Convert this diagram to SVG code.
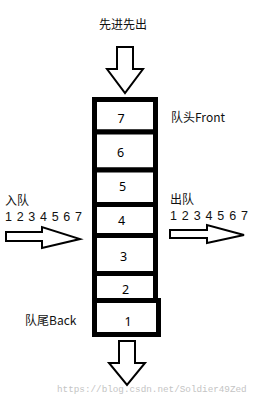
<svg xmlns="http://www.w3.org/2000/svg" width="255" height="400" viewBox="0 0 255 400">
<style>
.box{fill:#fff;stroke:#000;stroke-width:5}
.num{font-family:"Noto Sans","Noto Sans CJK SC",sans-serif;font-size:12.5px;fill:#000;text-anchor:middle}
.lbl{font-family:"Noto Sans CJK SC","Noto Sans",sans-serif;font-size:12px;fill:#111}
.seq{font-family:"Liberation Sans",Arial,sans-serif;font-size:12.5px;fill:#111}
.arr{fill:#fff;stroke:#000;stroke-width:2;stroke-linejoin:miter}
.wm{font-family:"Liberation Mono",monospace;font-size:9.3px;fill:#c4c4c4}
</style>
<rect width="255" height="400" fill="#fff"/>
<g id="title"><text class="lbl" x="123" y="29" text-anchor="middle" font-size="12.5">先进先出</text></g>
<g id="connectors">
<polygon class="arr" points="117,47 133,47 133,69 143,69 125,93 107,69 117,69"/>
<polygon class="arr" points="119,341 135,341 135,363 145,363 127,385 109,363 119,363"/>
<polygon class="arr" points="6,232 42,232 42,227 80,239 42,248 42,241 6,241"/>
<polygon class="arr" points="170,230 207,230 207,225 244,235 207,243 207,238 170,238"/>
</g>
<g id="box7"><rect class="box" x="94.5" y="99.5" width="61" height="32.5"/><text class="num" x="121" y="123">7</text></g>
<g id="box6"><rect class="box" x="94.5" y="132" width="61" height="38"/><text class="num" x="120.5" y="157">6</text></g>
<g id="box5"><rect class="box" x="94.5" y="170" width="61" height="34.5"/><text class="num" x="122.5" y="191">5</text></g>
<g id="box4"><rect class="box" x="94.5" y="204.5" width="61" height="31"/><text class="num" x="121.5" y="225">4</text></g>
<g id="box3"><rect class="box" x="94.5" y="235.5" width="61" height="38"/><text class="num" x="123.5" y="261">3</text></g>
<g id="box2"><rect class="box" x="94.5" y="273.5" width="61" height="27"/><text class="num" x="125.5" y="294">2</text></g>
<g id="box1"><rect class="box" x="94.5" y="300.5" width="64" height="34"/><text class="num" x="128" y="326">1</text></g>
<g id="labels">
<text class="lbl" x="171" y="122">队头Front</text>
<text class="lbl" x="25" y="325">队尾Back</text>
<text class="lbl" x="5" y="205" font-size="11.5">入队</text>
<text class="seq" x="5" y="221" textLength="77">1 2 3 4 5 6 7</text>
<text class="lbl" x="170" y="204" font-size="11.5">出队</text>
<text class="seq" x="170" y="220" textLength="78">1 2 3 4 5 6 7</text>
</g>
<text class="wm" x="57" y="392">https://blog.csdn.net/Soldier49Zed</text>
</svg>
